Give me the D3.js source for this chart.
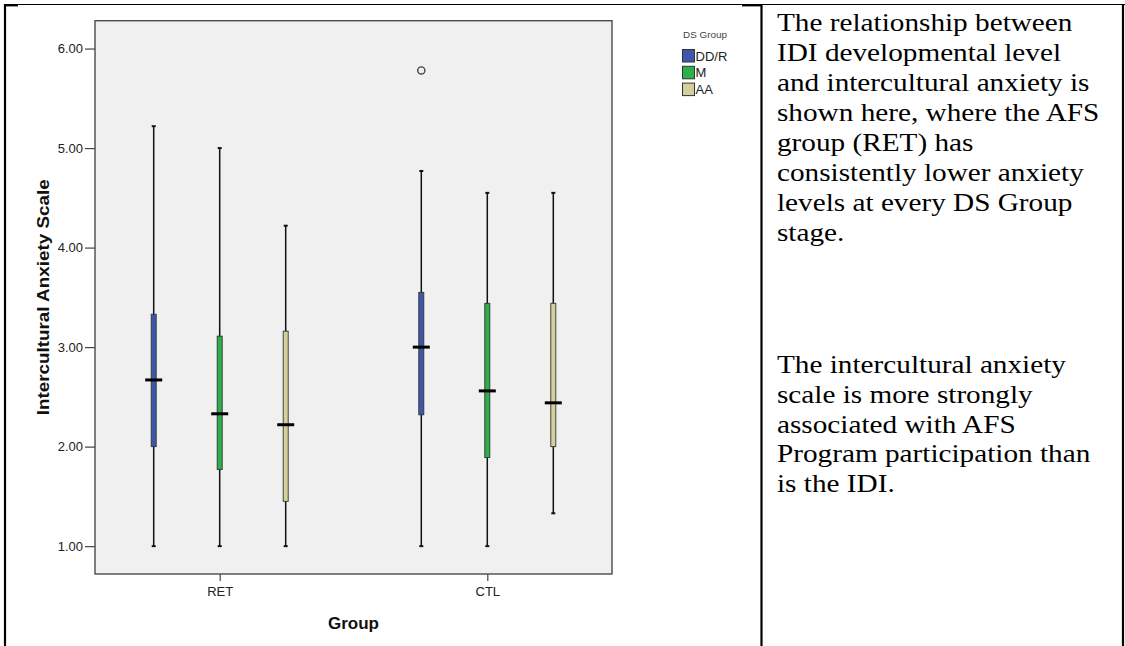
<!DOCTYPE html>
<html>
<head>
<meta charset="utf-8">
<script src="https://cdn.jsdelivr.net/npm/d3@7"></script>
<style>
  html, body { margin: 0; padding: 0; background: #fff; }
  svg { display: block; }
</style>
</head>
<body>
<svg id="chart" width="1125" height="646"></svg>
<script>
// Box plot data: Intercultural Anxiety Scale by Group and DS Group
const groups = ["RET", "CTL"];
const series = ["DD/R", "M", "AA"];
const seriesColors = ["#3d58aa", "#2bb04a", "#d5d09b"];

// one row per group, one column per DS Group
const whiskerLow  = [[1.00, 1.00, 1.00], [1.00, 1.00, 1.33]];
const quart1      = [[2.00, 1.77, 1.45], [2.32, 1.89, 2.00]];
const medians     = [[2.67, 2.33, 2.22], [3.00, 2.56, 2.44]];
const quart3      = [[3.33, 3.11, 3.16], [3.55, 3.44, 3.44]];
const whiskerHigh = [[5.22, 5.00, 4.22], [4.77, 4.55, 4.55]];

const outlierGroups = ["CTL"];
const outlierSeries = ["DD/R"];
const outlierValues = [5.78];

const yTicks = [1, 2, 3, 4, 5, 6];
const yTitle = "Intercultural Anxiety Scale";
const xTitle = "Group";
const legendTitle = "DS Group";

const paragraph1 = [
  "The relationship between",
  "IDI developmental level",
  "and intercultural anxiety is",
  "shown here, where the AFS",
  "group (RET) has",
  "consistently lower anxiety",
  "levels at every DS Group",
  "stage."
];
const paragraph2 = [
  "The intercultural anxiety",
  "scale is more strongly",
  "associated with AFS",
  "Program participation than",
  "is the IDI."
];

const svg = d3.select("#chart");

// ---- table cell borders ----
const border = svg.append("g").attr("stroke", "#000");
border.append("line").attr("x1", 4).attr("x2", 1125).attr("y1", 4.5).attr("y2", 4.5).attr("stroke-width", 1.2);
border.append("line").attr("x1", 4).attr("x2", 18).attr("y1", 5.2).attr("y2", 5.2).attr("stroke-width", 2.4);
border.append("line").attr("x1", 742).attr("x2", 762).attr("y1", 5.2).attr("y2", 5.2).attr("stroke-width", 2.4);
border.append("line").attr("x1", 5).attr("x2", 5).attr("y1", 4).attr("y2", 646).attr("stroke-width", 2.2);
border.append("line").attr("x1", 761.5).attr("x2", 761.5).attr("y1", 4).attr("y2", 646).attr("stroke-width", 2.2);
border.append("line").attr("x1", 1123).attr("x2", 1123).attr("y1", 4).attr("y2", 646).attr("stroke-width", 2.2);

// ---- plot frame ----
const plot = { left: 95, right: 612, top: 20.7, bottom: 574 };

const y = d3.scaleLinear().domain([0.72, 6.28]).range([plot.bottom, plot.top]);
const x = d3.scalePoint().domain(groups).range([plot.left, plot.right]).padding(0.466);
const xSub = d3.scalePoint().domain(series).range([-66, 66]);
const color = d3.scaleOrdinal().domain(series).range(seriesColors);

svg.append("rect")
  .attr("x", plot.left).attr("y", plot.top)
  .attr("width", plot.right - plot.left).attr("height", plot.bottom - plot.top)
  .attr("fill", "#f0f0f0").attr("stroke", "#4a4a4a").attr("stroke-width", 1.4);

// ---- axes ----
const yAxis = d3.axisLeft(y).tickValues(yTicks).tickFormat(d3.format(".2f")).tickSize(10).tickPadding(2);
const gy = svg.append("g").attr("transform", `translate(${plot.left},0)`).call(yAxis);
gy.select(".domain").remove();
gy.selectAll(".tick line").attr("stroke", "#444").attr("stroke-width", 1.2);
gy.selectAll(".tick text")
  .attr("fill", "#222").attr("font-family", "'Liberation Sans', Arial, sans-serif")
  .attr("font-size", 13);

const xAxis = d3.axisBottom(x).tickSize(7).tickPadding(6);
const gx = svg.append("g").attr("transform", `translate(0,${plot.bottom})`).call(xAxis);
gx.select(".domain").remove();
gx.selectAll(".tick line").attr("stroke", "#444").attr("stroke-width", 1.2);
gx.selectAll(".tick text")
  .attr("fill", "#222").attr("font-family", "'Liberation Sans', Arial, sans-serif")
  .attr("font-size", 13);

// axis titles
svg.append("text")
  .attr("transform", `translate(49,${(plot.top + plot.bottom) / 2}) rotate(-90)`)
  .attr("text-anchor", "middle")
  .attr("font-family", "'Liberation Sans', Arial, sans-serif")
  .attr("font-weight", "bold").attr("font-size", 16.5)
  .attr("textLength", 236).attr("lengthAdjust", "spacingAndGlyphs")
  .attr("fill", "#111")
  .text(yTitle);

svg.append("text")
  .attr("x", (plot.left + plot.right) / 2).attr("y", 629)
  .attr("text-anchor", "middle")
  .attr("font-family", "'Liberation Sans', Arial, sans-serif")
  .attr("font-weight", "bold").attr("font-size", 17)
  .attr("fill", "#111")
  .text(xTitle);

// ---- boxes ----
const boxes = [];
groups.forEach((g, gi) => {
  series.forEach((s, si) => {
    boxes.push({
      group: g, series: s,
      lo: whiskerLow[gi][si], q1: quart1[gi][si], med: medians[gi][si],
      q3: quart3[gi][si], hi: whiskerHigh[gi][si]
    });
  });
});

const boxW = 5, medW = 17, capW = 4;
const bg = svg.append("g").selectAll("g").data(boxes).join("g")
  .attr("transform", d => `translate(${x(d.group) + xSub(d.series)},0)`);

// whiskers
bg.append("line")
  .attr("x1", 0).attr("x2", 0)
  .attr("y1", d => y(d.hi)).attr("y2", d => y(d.lo))
  .attr("stroke", "#111").attr("stroke-width", 1.5);
// whisker caps
bg.append("line")
  .attr("x1", -capW / 2).attr("x2", capW / 2)
  .attr("y1", d => y(d.hi)).attr("y2", d => y(d.hi))
  .attr("stroke", "#111").attr("stroke-width", 2);
bg.append("line")
  .attr("x1", -capW / 2).attr("x2", capW / 2)
  .attr("y1", d => y(d.lo)).attr("y2", d => y(d.lo))
  .attr("stroke", "#111").attr("stroke-width", 2);
// interquartile box
bg.append("rect")
  .attr("x", -boxW / 2).attr("width", boxW)
  .attr("y", d => y(d.q3)).attr("height", d => y(d.q1) - y(d.q3))
  .attr("fill", d => color(d.series))
  .attr("stroke", "#333").attr("stroke-width", 0.9);
// median
bg.append("line")
  .attr("x1", -medW / 2).attr("x2", medW / 2)
  .attr("y1", d => y(d.med)).attr("y2", d => y(d.med))
  .attr("stroke", "#000").attr("stroke-width", 3);

// outliers
const outliers = outlierValues.map((v, i) => ({ group: outlierGroups[i], series: outlierSeries[i], value: v }));
svg.append("g").selectAll("circle").data(outliers).join("circle")
  .attr("cx", d => x(d.group) + xSub(d.series))
  .attr("cy", d => y(d.value))
  .attr("r", 3.6)
  .attr("fill", "none").attr("stroke", "#444").attr("stroke-width", 1.4);

// ---- legend ----
const legend = svg.append("g");
legend.append("text")
  .attr("x", 683).attr("y", 38)
  .attr("font-family", "'Liberation Sans', Arial, sans-serif")
  .attr("font-size", 9).attr("fill", "#444")
  .attr("textLength", 44).attr("lengthAdjust", "spacingAndGlyphs")
  .text(legendTitle);

const li = legend.selectAll("g.item").data(series).join("g")
  .attr("class", "item")
  .attr("transform", (d, i) => `translate(682,${49 + i * 16.8})`);
li.append("rect")
  .attr("x", 0.5).attr("y", 0.5).attr("width", 12).attr("height", 12.5)
  .attr("fill", d => color(d)).attr("stroke", "#333").attr("stroke-width", 1);
li.append("text")
  .attr("x", 13.5).attr("y", 11.5)
  .attr("font-family", "'Liberation Sans', Arial, sans-serif")
  .attr("font-size", 13).attr("fill", "#222")
  .text(d => d);

// ---- commentary column ----
const textScaleX = 1.17;
function writeLines(lines, firstBaseline, lineGap) {
  const g = svg.append("g").attr("transform", `translate(777,0) scale(${textScaleX},1)`);
  g.selectAll("text").data(lines).join("text")
    .attr("x", 0)
    .attr("y", (d, i) => firstBaseline + i * lineGap)
    .attr("font-family", "'Liberation Serif', 'Times New Roman', serif")
    .attr("font-size", 25)
    .attr("fill", "#000")
    .text(d => d);
}
writeLines(paragraph1, 31, 30);
writeLines(paragraph2, 373, 29.8);
</script>
</body>
</html>
